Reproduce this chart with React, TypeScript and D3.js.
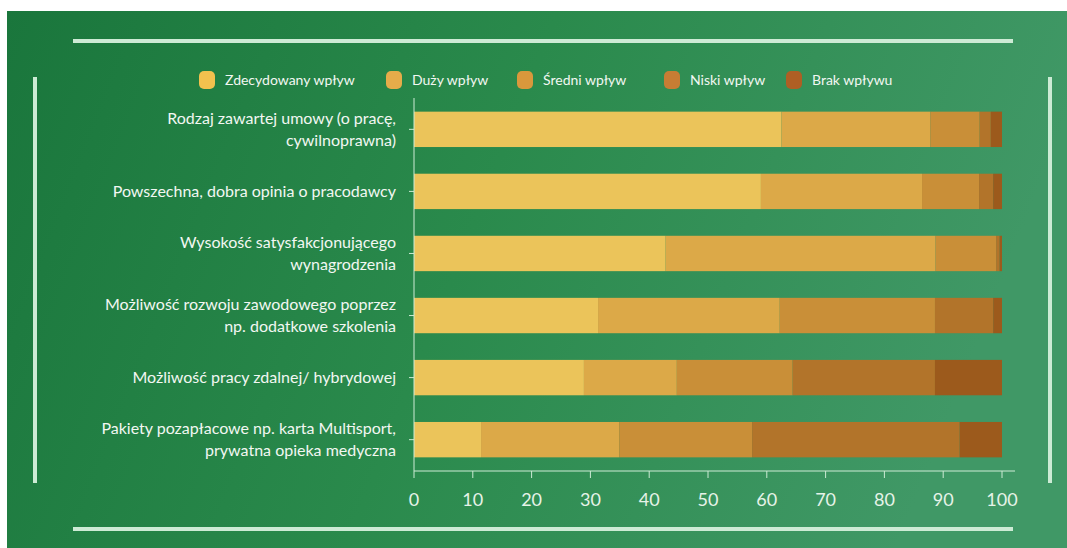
import React from "react";
import * as d3 from "d3";

const categories: string[][] = [
  ["Rodzaj zawartej umowy (o pracę,", "cywilnoprawna)"],
  ["Powszechna, dobra opinia o pracodawcy"],
  ["Wysokość satysfakcjonującego", "wynagrodzenia"],
  ["Możliwość rozwoju zawodowego poprzez", "np. dodatkowe szkolenia"],
  ["Możliwość pracy zdalnej/ hybrydowej"],
  ["Pakiety pozapłacowe np. karta Multisport,", "prywatna opieka medyczna"],
];

const seriesNames = ["Zdecydowany wpływ", "Duży wpływ", "Średni wpływ", "Niski wpływ", "Brak wpływu"];

const zdecydowany = [62.5, 59.0, 42.8, 31.3, 28.9, 11.4];
const duzy = [25.3, 27.4, 45.9, 30.9, 15.8, 23.5];
const sredni = [8.4, 9.7, 10.3, 26.4, 19.7, 22.6];
const niski = [1.9, 2.4, 0.6, 9.9, 24.2, 35.3];
const brak = [1.9, 1.5, 0.4, 1.5, 11.4, 7.2];

const xTicks = [0, 10, 20, 30, 40, 50, 60, 70, 80, 90, 100];

const barColors = ["#EBC45A", "#DCA948", "#C98F38", "#B2742A", "#9C5A1C"];
const legendColors = ["#F2C14E", "#E6AC4A", "#D9983C", "#C77D34", "#AE5F24"];

export default function App() {
  const W = 1067;
  const H = 548;
  const left = 414;
  const right = 1002;
  const top = 98;
  const bottom = 471;

  const x = d3.scaleLinear().domain([0, 100]).range([left, right]);
  const y = d3
    .scaleBand<number>()
    .domain(categories.map((_, i) => i))
    .range([top, bottom])
    .paddingInner(0.43)
    .paddingOuter(0.22);

  const seriesData = [zdecydowany, duzy, sredni, niski, brak];
  const rows = categories.map((_, i) => {
    const r: Record<string, number> = {};
    seriesNames.forEach((s, k) => (r[s] = seriesData[k][i]));
    return r;
  });
  const stack = d3.stack<Record<string, number>>().keys(seriesNames);
  const stacked = stack(rows);

  const legendX = [199, 386, 517, 664, 786];
  const font = "Lato, 'Open Sans', sans-serif";
  const lineColor = "#cdebd5";

  return (
    <svg
      width={W}
      height={H}
      style={{ position: "absolute", left: 0, top: 0, display: "block" }}
      fontFamily={font}
    >
      <defs>
        <linearGradient id="bg" x1="0" y1="0" x2="1" y2="0.2">
          <stop offset="0" stopColor="#1A763C" />
          <stop offset="0.5" stopColor="#2A8A4C" />
          <stop offset="1" stopColor="#409866" />
        </linearGradient>
      </defs>
      <rect x={0} y={0} width={W} height={H} fill="#ffffff" />
      <rect x={7} y={11} width={W - 7} height={H - 11} fill="url(#bg)" />

      {/* frame lines */}
      <line x1={73} x2={1013} y1={41} y2={41} stroke={lineColor} strokeWidth={4} />
      <line x1={73} x2={1013} y1={529} y2={529} stroke={lineColor} strokeWidth={4} />
      <line x1={35} x2={35} y1={77} y2={483} stroke={lineColor} strokeWidth={4} />
      <line x1={1050} x2={1050} y1={77} y2={483} stroke={lineColor} strokeWidth={4} />

      {/* legend */}
      {seriesNames.map((s, k) => (
        <g key={s} transform={`translate(${legendX[k]},80)`}>
          <rect x={0} y={-9} width={16} height={18} rx={5} fill={legendColors[k]} />
          <text x={26} y={0} dy="0.35em" fontSize={14} fill="#f2f7f2">
            {s}
          </text>
        </g>
      ))}

      {/* bars */}
      {stacked.map((layer, k) => (
        <g key={layer.key} fill={barColors[k]}>
          {layer.map((d, i) => (
            <rect
              key={i}
              x={x(d[0])}
              width={Math.max(0, x(d[1]) - x(d[0]))}
              y={y(i)!}
              height={y.bandwidth()}
            />
          ))}
        </g>
      ))}

      {/* y axis */}
      <line x1={left} x2={left} y1={top} y2={bottom} stroke={lineColor} strokeWidth={1} />
      {categories.map((lines, i) => {
        const cy = y(i)! + y.bandwidth() / 2;
        const lh = 22;
        const startY = cy - ((lines.length - 1) * lh) / 2;
        return (
          <g key={i}>
            <line x1={left - 5} x2={left} y1={cy} y2={cy} stroke={lineColor} strokeWidth={1} />
            <text textAnchor="end" fontSize={16} fill="#f2f7f2">
              {lines.map((t, j) => (
                <tspan key={j} x={396} y={startY + j * lh} dy="0.35em">
                  {t}
                </tspan>
              ))}
            </text>
          </g>
        );
      })}

      {/* x axis */}
      <line x1={left} x2={1015} y1={bottom} y2={bottom} stroke={lineColor} strokeWidth={1} />
      {xTicks.map((t) => (
        <g key={t}>
          <line x1={x(t)} x2={x(t)} y1={bottom} y2={bottom + 7} stroke={lineColor} strokeWidth={1} />
          <text x={x(t)} y={500} dy="0.35em" textAnchor="middle" fontSize={18} fill="#e6f3e8">
            {t}
          </text>
        </g>
      ))}
    </svg>
  );
}
